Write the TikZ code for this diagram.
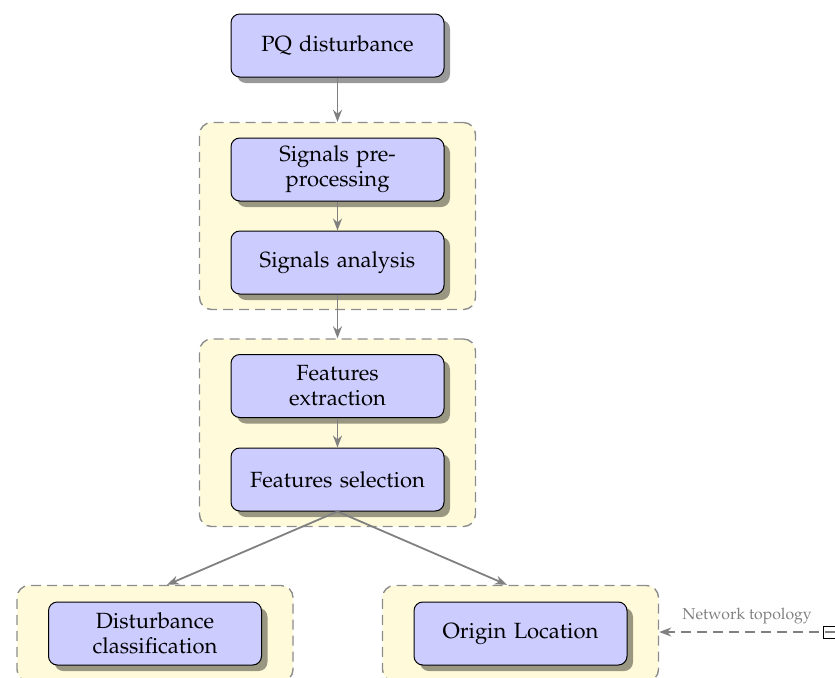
\documentclass[tikz,border=0pt]{standalone}
\usepackage[T1]{fontenc}
\usepackage{mathpazo}
\usetikzlibrary{arrows.meta,shadows,fit,backgrounds,calc}
\definecolor{blockfill}{RGB}{204,204,255}
\definecolor{groupfill}{RGB}{255,251,218}
\begin{document}
\begin{tikzpicture}[x=0.5pt,y=-0.5pt,
  block/.style={draw=black, line width=0.5pt, fill=blockfill, rounded corners=4.4pt,
    align=center, minimum width=106.5pt, minimum height=31.5pt, text width=96pt,
    font=\fontsize{11}{12.5}\selectfont,
    drop shadow={shadow xshift=3pt, shadow yshift=-3pt, opacity=.4, fill=black}},
  group/.style={draw=black!45, line width=0.7pt, dash pattern=on 5pt off 3pt,
    fill=groupfill, rounded corners=6pt, inner xsep=15.5pt, inner ysep=7.5pt},
  flow/.style={draw=black!50, line width=0.9pt, -{Stealth[length=6pt,width=4.5pt]}},
  netflow/.style={draw=black!50, line width=0.9pt, dash pattern=on 5pt off 3pt,
    -{Stealth[length=6pt,width=4.5pt]}},
  netlabel/.style={text=black!50, font=\fontsize{7.9}{9}\selectfont},
  netbox/.style={draw=black, line width=0.5pt, fill=white, minimum width=12pt, minimum height=6pt, inner sep=0pt}
]
\useasboundingbox (0,0) rectangle (835,677);

\node[block] (pq) at (337.5,45.5) {PQ disturbance};
\node[block] (sp) at (337.5,169.5) {Signals pre-\\processing};
\node[block] (sa) at (337.5,262.5) {Signals analysis};
\node[block] (fe) at (337.5,386) {Features\\extraction};
\node[block] (fs) at (337.5,479.5) {Features selection};
\node[block] (dc) at (155,633.5) {Disturbance\\classification};
\node[block] (ol) at (520.5,633.5) {Origin Location};

\begin{scope}[on background layer]
  \node[group, fit=(sp)(sa)] (g1) {};
  \node[group, fit=(fe)(fs)] (g2) {};
  \node[group, fit=(dc), inner ysep=8pt] (gl) {};
  \node[group, fit=(ol), inner ysep=8pt] (gr) {};
\end{scope}

\node[netbox] (net) at (835,632) {};

\draw[flow] (pq) -- (g1);
\draw[flow] (sp) -- (sa);
\draw[flow] (sa) -- (g2);
\draw[flow] (fe) -- (fs);
\draw[flow] (fs.south) -- ($(gl.north)+(12,0)$);
\draw[flow] (fs.south) -- ($(gr.north)+(-13.5,0)$);
\draw[netflow] (net.center) -- node[above, netlabel] {Network topology} (net.center -| gr.east);
\end{tikzpicture}
\end{document}
